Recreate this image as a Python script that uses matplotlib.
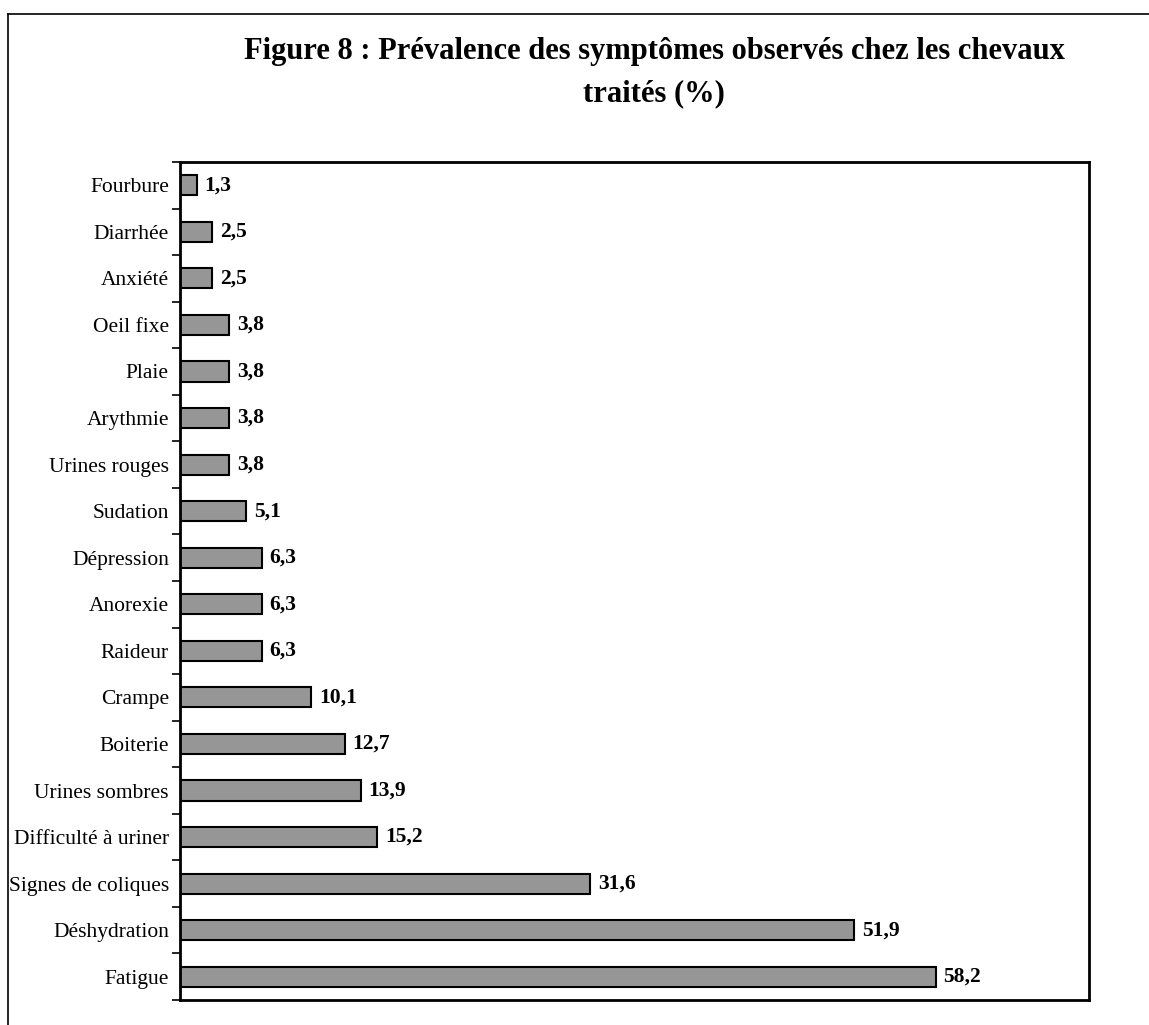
import matplotlib
matplotlib.use("Agg")
import matplotlib.pyplot as plt
from matplotlib.lines import Line2D
import numpy as np

categories = ["Fatigue", "Déshydration", "Signes de coliques", "Difficulté à uriner",
              "Urines sombres", "Boiterie", "Crampe", "Raideur", "Anorexie", "Dépression",
              "Sudation", "Urines rouges", "Arythmie", "Plaie", "Oeil fixe", "Anxiété",
              "Diarrhée", "Fourbure"]
values = [58.2, 51.9, 31.6, 15.2, 13.9, 12.7, 10.1, 6.3, 6.3, 6.3, 5.1, 3.8, 3.8, 3.8, 3.8, 2.5, 2.5, 1.3]
title = "Figure 8 : Prévalence des symptômes observés chez les chevaux\ntraités (%)"

plt.rcParams['font.family'] = ['Liberation Serif', 'DejaVu Serif']

W, H = 1149, 1025
fig = plt.figure(figsize=(W/100, H/100), dpi=100)

# outer frame (top and left edges visible)
fig.add_artist(Line2D([8/W, 8/W], [0, 1 - 14/H], transform=fig.transFigure, color='black', lw=1.2))
fig.add_artist(Line2D([8/W, 1], [1 - 14/H, 1 - 14/H], transform=fig.transFigure, color='black', lw=1.2))

ax = fig.add_axes([180/W, 1 - 1000/H, (1089-180)/W, (1000-162)/H])
y = np.arange(len(categories))
ax.barh(y, values, height=0.43, color='#969696', edgecolor='black', linewidth=1.5)
ax.set_xlim(0, 70)
ax.set_ylim(-0.5, len(categories) - 0.5)
for yi, v in zip(y, values):
    ax.text(v + 0.6, yi, f"{v:.1f}".replace('.', ','), va='center', ha='left',
            fontsize=15.5, fontweight='bold')

ax.set_xticks([])
ax.set_yticks(y)
ax.set_yticklabels(categories, fontsize=15.5)
ax.set_yticks(np.arange(-0.5, len(categories), 1), minor=True)
ax.tick_params(axis='y', which='major', length=0, pad=8)
ax.tick_params(axis='y', which='minor', length=6, width=1.2, direction='out')
for s in ax.spines.values():
    s.set_linewidth(2)

fig.text(654/W, 1 - 73/H, title, ha='center', va='center', fontsize=22,
         fontweight='bold', linespacing=1.6)

fig.savefig("out.png", dpi=100)
